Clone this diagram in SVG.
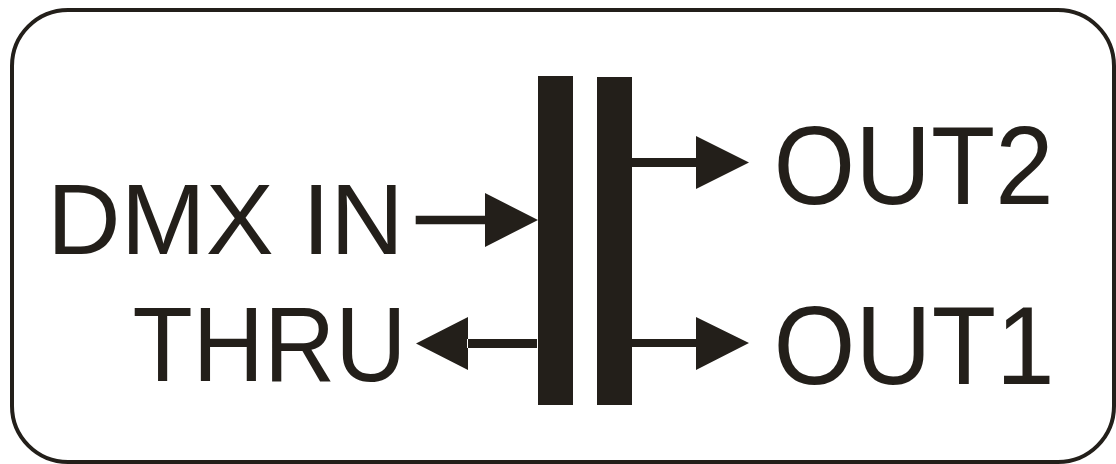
<svg xmlns="http://www.w3.org/2000/svg" width="1116" height="464" viewBox="0 0 1116 464">
<style>
.ink{fill:#231f1a}
.lbl{font-family:"Liberation Sans",Arial,sans-serif;fill:#231f1a}
</style>
<rect width="1116" height="464" fill="#ffffff"/>
<g id="frame"><rect x="12" y="10" width="1102" height="452" rx="56" ry="56" fill="none" stroke="#231f1a" stroke-width="4"/></g>
<g id="splitter">
<rect class="ink" x="538" y="76" width="35" height="329"/>
<rect class="ink" x="597" y="77" width="35" height="328"/>
</g>
<g id="dmx-in"><text class="lbl" x="47" y="254" font-size="100" textLength="357" lengthAdjust="spacingAndGlyphs">DMX IN</text></g>
<g id="thru"><text class="lbl" x="132.6" y="381" font-size="106" textLength="274" lengthAdjust="spacingAndGlyphs">THRU</text></g>
<g id="out2"><text class="lbl" x="773.6" y="204" font-size="112" textLength="280" lengthAdjust="spacingAndGlyphs">OUT2</text></g>
<g id="out1"><text class="lbl" x="773.6" y="384" font-size="112" textLength="281" lengthAdjust="spacingAndGlyphs">OUT1</text></g>
<g id="connectors" class="ink">
<path d="M415.7 215.7H486V224.3H415.7Z M485 193L538 220L485 247Z"/>
<path d="M467 339H537V348H467Z M468 317L416 343.5L468 370Z"/>
<path d="M632 158H697V167H632Z M696 136L749 162.5L696 189Z"/>
<path d="M632 339H697V347H632Z M696 317L749 343L696 370Z"/>
</g>
</svg>
